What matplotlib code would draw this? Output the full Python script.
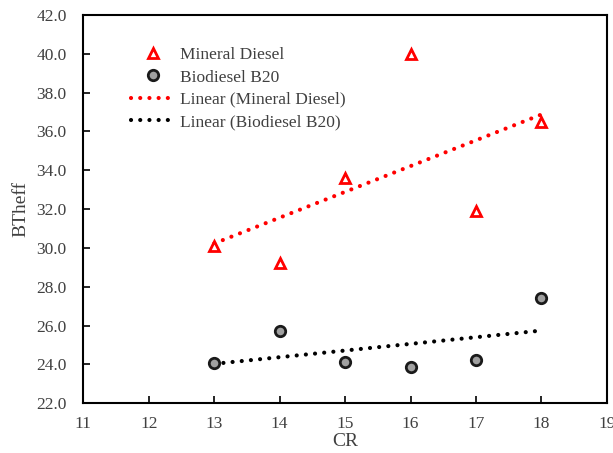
import numpy as np
import matplotlib
matplotlib.use("Agg")
import matplotlib.pyplot as plt
from matplotlib.ticker import FormatStrFormatter

plt.rcParams['font.family'] = ['Liberation Serif', 'DejaVu Serif']

cr = [13, 14, 15, 16, 17, 18]
mineral = [30.1, 29.2, 33.6, 40.0, 31.9, 36.5]
biodiesel = [24.05, 25.7, 24.1, 23.85, 24.2, 27.4]
xticks = [11, 12, 13, 14, 15, 16, 17, 18, 19]
yticks = [22, 24, 26, 28, 30, 32, 34, 36, 38, 40, 42]

txt = '#404040'
fig = plt.figure(figsize=(6.13, 4.53), dpi=100)
ax = fig.add_axes([0.136, 0.110, 0.854, 0.857])

x = np.array(cr, dtype=float)
pm = np.polyfit(x, mineral, 1)
pb = np.polyfit(x, biodiesel, 1)
xl = np.array([x.min(), x.max()])

dot = (0, (0.01, 2.2))
ax.plot(x, mineral, linestyle='none', marker='^', markersize=7.5, markerfacecolor='white',
        markeredgecolor='red', markeredgewidth=2, label='Mineral Diesel', zorder=3)
ax.plot(x, biodiesel, linestyle='none', marker='o', markersize=7.5, markerfacecolor='#a0a0a0',
        markeredgecolor='#1a1a1a', markeredgewidth=2, label='Biodiesel B20', zorder=3)
ax.plot(xl, np.polyval(pm, xl), linestyle=dot, color='red', linewidth=3,
        dash_capstyle='round', label='Linear (Mineral Diesel)', zorder=2)
ax.plot(xl, np.polyval(pb, xl), linestyle=dot, color='black', linewidth=3,
        dash_capstyle='round', label='Linear (Biodiesel B20)', zorder=2)

ax.set_xlim(11, 19)
ax.set_ylim(22, 42)
ax.set_xticks(xticks)
ax.set_yticks(yticks)
ax.yaxis.set_major_formatter(FormatStrFormatter('%.1f'))
ax.tick_params(direction='in', length=5, width=1.2, labelsize=12.5, labelcolor=txt, color='black')
ax.tick_params(axis='x', pad=9)
ax.tick_params(axis='y', pad=12)
for s in ax.spines.values():
    s.set_linewidth(1.5)
ax.set_xlabel('CR', fontsize=14, color=txt, labelpad=1)
ax.set_ylabel('BTheff', fontsize=14, color=txt, labelpad=5)

leg = ax.legend(loc='upper left', bbox_to_anchor=(0.078, 0.935), frameon=False, fontsize=12.5,
                handlelength=2.5, handletextpad=0.3, labelspacing=0.35, borderaxespad=0.0)
for t in leg.get_texts():
    t.set_color(txt)

fig.savefig('out.png', dpi=100)
